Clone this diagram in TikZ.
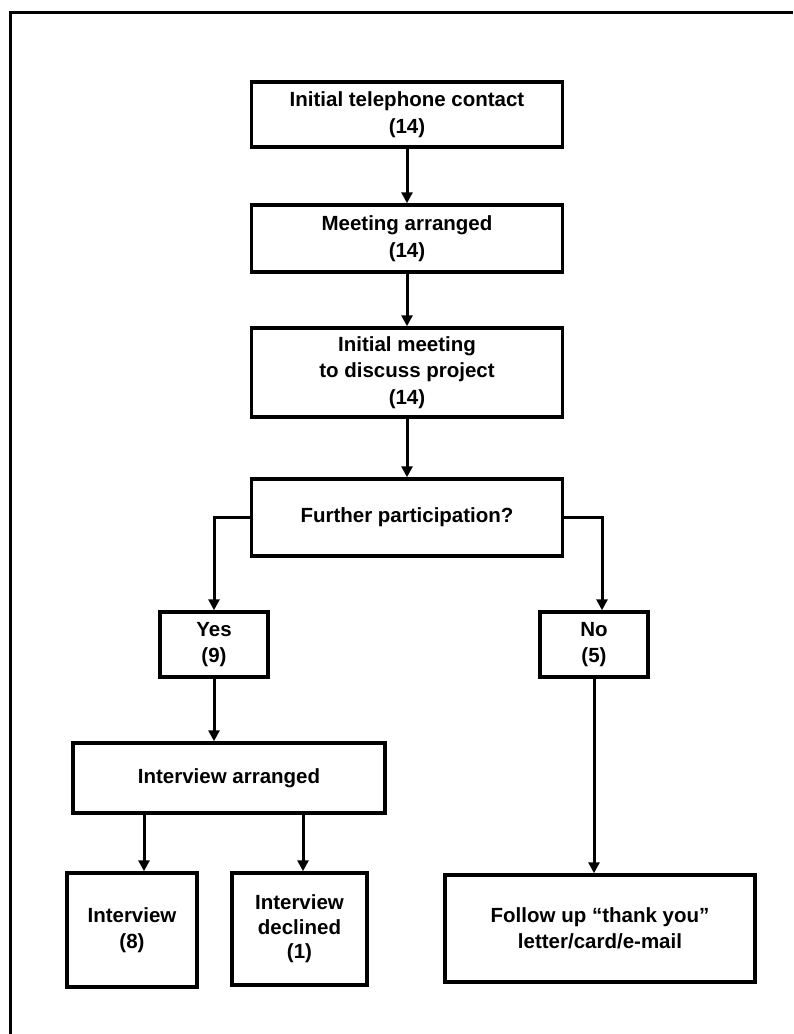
\documentclass[tikz,border=0pt]{standalone}
\usepackage{fontspec}
\setmainfont{Liberation Sans}
\usetikzlibrary{arrows.meta}
\tikzset{
  box/.style={draw=black, line width=3.5pt, fill=white, align=center,
    inner sep=0pt, font=\bfseries\fontsize{20.5}{26.5}\selectfont},
  arr/.style={draw=black, line width=3pt,
    -{Triangle[length=11pt,width=11pt]}},
  frame/.style={draw=black, line width=3pt}
}
\begin{document}
\begin{tikzpicture}[x=1pt,y=-1pt]
  \useasboundingbox (0,0) rectangle (793,1034);
  % page frame (top and left edges)
  \draw[frame] (10,1034) -- (10,12) -- (793,12);

  % main column
  \node[box, minimum width=311pt, minimum height=65pt] (tel) at (407,114.5)
    {Initial telephone contact\\(14)};
  \node[box, minimum width=311pt, minimum height=67pt] (meet) at (407,238.5)
    {Meeting arranged\\(14)};
  \node[box, minimum width=311pt, minimum height=89pt] (init) at (407,372.5)
    {Initial meeting\\to discuss project\\(14)};
  \node[box, minimum width=311pt, minimum height=77pt] (further) at (407,517.5)
    {Further participation?};

  % decision outcomes
  \node[box, minimum width=108pt, minimum height=65pt] (yes) at (214,644.5)
    {Yes\\(9)};
  \node[box, minimum width=108pt, minimum height=65pt] (no) at (594,644.5)
    {No\\(5)};

  % interview branch
  \node[box, minimum width=312pt, minimum height=70pt] (arranged) at (229,778)
    {Interview arranged};
  \node[box, minimum width=130pt, minimum height=114pt] (interview) at (132,930)
    {Interview\\(8)};
  \node[box, minimum width=135pt, minimum height=112pt, font=\bfseries\fontsize{20.5}{24.5}\selectfont]
    (declined) at (299.5,929) {Interview\\declined\\(1)};

  % follow-up
  \node[box, minimum width=310pt, minimum height=107pt] (follow) at (600,928.5)
    {Follow up “thank you”\\letter/card/e-mail};

  % connectors
  \draw[arr] (tel.south) -- (meet.north);
  \draw[arr] (meet.south) -- (init.north);
  \draw[arr] (init.south) -- (further.north);
  \draw[arr] (further.west) -| (yes.north);
  \draw[arr] (further.east) -| ([xshift=8pt]no.north);
  \draw[arr] (yes.south) -- (yes.south |- arranged.north);
  \draw[arr] ([xshift=12pt]interview.north |- arranged.south) -- ([xshift=12pt]interview.north);
  \draw[arr] ([xshift=3.5pt]declined.north |- arranged.south) -- ([xshift=3.5pt]declined.north);
  \draw[arr] (no.south) -- (no.south |- follow.north);
\end{tikzpicture}
\end{document}
